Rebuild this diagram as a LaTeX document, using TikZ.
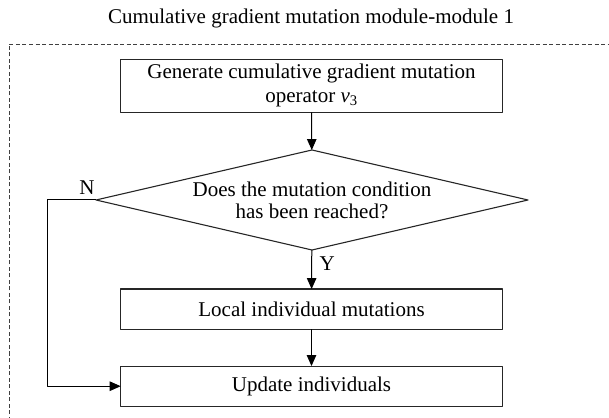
\documentclass[tikz,border=0pt]{standalone}
\usepackage{fontspec}
\setmainfont{Liberation Serif}
\usetikzlibrary{arrows.meta,shapes.geometric}

\begin{document}
\begin{tikzpicture}[
        x=1pt, y=1pt,
        line join=round,
        every node/.style={font=\fontsize{21}{24}\selectfont, inner sep=0pt, outer sep=0pt},
        stepbox/.style={draw=black!85, line width=1.1pt, rectangle,
            minimum width=381.6pt, align=center},
        decision/.style={draw=black!85, line width=1.1pt, diamond,
            minimum width=432pt, minimum height=100pt},
        flow/.style={draw=black, line width=1pt, -{Triangle[length=11pt,width=9.5pt]}}
    ]
    \useasboundingbox (0,0) rectangle (609,417);

    % frame of the module, running off the page
    \draw[black!75, line width=0.9pt, dash pattern=on 4pt off 2.5pt]
        (9,-10) |- (620,373);
    \node (title) at (311,399) {Cumulative gradient mutation module-module 1};

    \node[stepbox, minimum height=53pt] (gen) at (311.5,331.2)
        {Generate cumulative gradient mutation\\operator \textit{v}\textsubscript{3}};
    \node[decision,
        label={[align=center, font=\fontsize{21}{22}\selectfont]center:Does the mutation condition\\has been reached?}]
        (cond) at (312,217) {};
    \node[stepbox, minimum height=40.3pt] (local) at (311.5,107.8) {Local individual mutations};
    \node[stepbox, minimum height=40.3pt] (update) at (311.5,30.8) {Update individuals};

    \coordinate (loop) at (47.7,0);

    \draw[flow] (gen) -- (cond);
    \draw[flow] (cond) -- node[right=8pt, pos=0.35] (yes) {Y} (local);
    \draw[flow] (local) -- (update);
    \draw[flow] (cond.west) -- (cond.west -| loop) |- (update.west);
    \node (no) at (87,229) {N};
\end{tikzpicture}
\end{document}
